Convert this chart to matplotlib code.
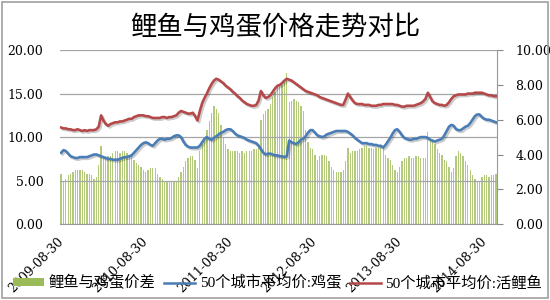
import numpy as np
import matplotlib
matplotlib.use('Agg')
import matplotlib.pyplot as plt
import matplotlib.patheffects as pe
from matplotlib.patches import Rectangle, Patch

# 10-day data, 2009-08-30 .. 2014-10-20
tick_labels = ['2009-08-30', '2010-08-30', '2011-08-30',
               '2012-08-30', '2013-08-30', '2014-08-30']

# 50个城市平均价:活鲤鱼 (left axis)
carp = [
    11.1, 11.0, 11.0, 10.9, 10.9, 10.8, 10.8, 10.9, 10.8, 10.7,
    10.8, 10.7, 10.8, 10.8, 10.8, 10.9, 11.2, 12.5, 11.9, 11.5,
    11.3, 11.5, 11.6, 11.7, 11.7, 11.8, 11.8, 11.9, 12.0, 12.1,
    12.1, 12.3, 12.4, 12.5, 12.5, 12.5, 12.4, 12.4, 12.3, 12.2,
    12.2, 12.2, 12.2, 12.3, 12.3, 12.2, 12.3, 12.3, 12.4, 12.5,
    12.8, 13.0, 12.9, 12.8, 12.7, 12.7, 12.8, 12.4, 11.9, 13.0,
    13.9, 14.5, 15.0, 15.6, 16.1, 16.5, 16.7, 16.6, 16.4, 16.2,
    15.9, 15.7, 15.5, 15.2, 15.0, 14.7, 14.5, 14.2, 14.0, 13.8,
    13.7, 13.6, 13.6, 13.7, 14.2, 15.3, 14.8, 14.5, 14.6, 14.8,
    15.2, 15.6, 15.9, 16.0, 16.2, 16.5, 16.7, 16.6, 16.5, 16.3,
    16.1, 15.9, 15.7, 15.5, 15.3, 15.2, 15.1, 15.0, 14.9, 14.8,
    14.6, 14.5, 14.4, 14.3, 14.2, 14.1, 14.0, 13.9, 13.8, 13.7,
    13.7, 14.3, 15.0, 14.6, 14.2, 13.9, 13.8, 13.8, 13.8, 13.7,
    13.7, 13.7, 13.6, 13.6, 13.6, 13.7, 13.7, 13.8, 13.8, 13.8,
    13.8, 13.8, 13.7, 13.7, 13.6, 13.5, 13.5, 13.6, 13.6, 13.6,
    13.6, 13.7, 13.8, 13.9, 14.1, 14.4, 15.1, 14.6, 14.1, 13.9,
    13.8, 13.7, 13.7, 13.6, 13.7, 14.0, 14.4, 14.7, 14.8, 14.9,
    14.9, 14.9, 14.9, 15.0, 15.0, 15.0, 15.1, 15.1, 15.1, 15.1,
    15.0, 14.9, 14.8, 14.8, 14.7, 14.7,
]

# 50个城市平均价:鸡蛋 (left axis)
egg = [
    8.2, 8.5, 8.4, 8.1, 7.8, 7.7, 7.6, 7.6, 7.7, 7.7,
    7.7, 7.7, 7.8, 7.9, 8.0, 8.0, 7.9, 7.8, 7.7, 7.6,
    7.5, 7.5, 7.4, 7.4, 7.4, 7.5, 7.6, 7.7, 7.7, 7.8,
    7.9, 8.2, 8.5, 8.8, 9.1, 9.3, 9.4, 9.3, 9.1, 9.0,
    9.3, 9.6, 9.8, 9.8, 9.7, 9.8, 9.8, 9.9, 10.1, 10.2,
    10.2, 10.0, 9.5, 9.1, 8.9, 8.8, 8.8, 8.8, 8.8, 9.0,
    9.4, 9.8, 10.0, 9.8, 9.7, 9.9, 10.1, 10.3, 10.5, 10.6,
    10.8, 10.9, 10.9, 10.7, 10.4, 10.2, 10.1, 10.0, 9.9, 9.7,
    9.6, 9.5, 9.4, 9.3, 9.0, 8.6, 8.2, 8.0, 8.1, 8.1,
    8.0, 7.9, 7.9, 7.8, 7.8, 7.7, 7.8, 9.6, 9.4, 9.3,
    9.2, 9.4, 9.7, 9.8, 10.1, 10.5, 10.8, 10.8, 10.5, 10.2,
    10.1, 10.0, 10.1, 10.3, 10.4, 10.5, 10.6, 10.7, 10.7, 10.7,
    10.7, 10.7, 10.6, 10.4, 10.2, 9.9, 9.7, 9.5, 9.3, 9.3,
    9.3, 9.2, 9.2, 9.1, 9.1, 9.0, 9.0, 8.8, 9.1, 9.5,
    9.9, 10.4, 10.8, 10.9, 10.6, 10.2, 9.9, 9.8, 9.7, 9.7,
    9.8, 9.8, 9.9, 10.0, 10.0, 10.0, 9.9, 9.7, 9.6, 9.5,
    9.6, 9.7, 9.8, 10.2, 10.7, 11.2, 11.4, 11.3, 10.9, 10.8,
    10.8, 11.0, 11.2, 11.3, 11.6, 12.0, 12.4, 12.6, 12.6, 12.3,
    12.1, 12.0, 12.0, 11.9, 11.8, 11.7,
]

# 鲤鱼与鸡蛋价差 (right axis)
spread = [
    2.9, 2.5, 2.6, 2.8, 2.9, 3.0, 3.1, 3.1, 3.1, 3.1,
    3.0, 2.9, 2.9, 2.8, 2.6, 2.7, 3.4, 4.5, 3.8, 3.8,
    3.9, 3.9, 4.1, 4.2, 4.2, 4.1, 4.2, 4.2, 4.1, 4.0,
    3.9, 3.7, 3.5, 3.4, 3.3, 3.1, 3.0, 3.1, 3.2, 3.2,
    3.2, 2.9, 2.7, 2.6, 2.5, 2.5, 2.4, 2.5, 2.5, 2.4,
    2.7, 3.0, 3.3, 3.6, 3.8, 3.9, 3.9, 3.7, 3.2, 4.2,
    4.6, 4.9, 5.4, 5.9, 6.4, 6.8, 6.6, 6.4, 5.7, 5.0,
    4.6, 4.3, 4.2, 4.2, 4.2, 4.2, 4.1, 4.2, 4.1, 4.2,
    4.2, 4.2, 4.3, 4.3, 4.4, 6.0, 6.3, 6.5, 6.6, 6.9,
    7.3, 7.6, 7.9, 8.0, 8.0, 8.2, 8.7, 7.0, 7.1, 7.2,
    7.1, 7.0, 6.8, 6.5, 5.4, 4.7, 4.4, 4.3, 4.0, 3.7,
    3.9, 4.0, 4.0, 3.9, 3.6, 3.3, 3.1, 3.0, 3.0, 3.0,
    3.1, 3.6, 4.4, 4.1, 4.2, 4.2, 4.2, 4.3, 4.4, 4.5,
    4.5, 4.4, 4.4, 4.3, 4.4, 4.4, 4.5, 4.4, 4.0, 3.8,
    3.7, 3.4, 3.1, 3.0, 3.3, 3.6, 3.8, 3.8, 3.9, 3.8,
    3.8, 3.9, 3.9, 3.8, 3.8, 3.8, 5.3, 4.8, 4.7, 4.6,
    4.3, 4.1, 4.0, 3.7, 3.6, 3.3, 3.0, 3.2, 3.9, 4.2,
    4.1, 3.9, 3.6, 3.4, 3.1, 2.8, 2.6, 2.5, 2.5, 2.7,
    2.8, 2.8, 2.7, 2.8, 2.8, 2.9,
]

cjk = ['Noto Sans CJK SC', 'DejaVu Sans']
num_font = 'DejaVu Serif'

fig = plt.figure(figsize=(5.5, 3.0), dpi=100)
fig.patch.set_facecolor('white')
fig.patches.append(Rectangle((0.004, 0.008), 0.992, 0.985, transform=fig.transFigure,
                             fill=False, edgecolor='#a0a0a0', linewidth=1.2))

ax = fig.add_axes([0.109, 0.253, 0.795, 0.58])
ax2 = ax.twinx()

x = np.arange(len(carp))

ax2.bar(x, spread, width=0.55, color='#b3c97c', linewidth=0)

shadow = [pe.SimpleLineShadow(offset=(1.2, -1.2), alpha=0.2), pe.Normal()]
l1, = ax.plot(x, egg, color='#4a7db5', lw=1.9, label='50个城市平均价:鸡蛋',
              path_effects=shadow, solid_joinstyle='round')
l2, = ax.plot(x, carp, color='#b5494a', lw=1.9, label='50个城市平均价:活鲤鱼',
              path_effects=shadow, solid_joinstyle='round')

ax.set_zorder(ax2.get_zorder() + 1)
ax.patch.set_visible(False)

ax.set_xlim(-0.5, len(carp) - 0.5)
ax.set_ylim(0, 20)
ax2.set_ylim(0, 10)
ax.set_yticks(np.arange(0, 21, 5))
ax2.set_yticks(np.arange(0, 11, 2))
ax.set_yticklabels(['%.2f' % v for v in np.arange(0, 21, 5)], family=num_font, fontsize=9)
ax2.set_yticklabels(['%.2f' % v for v in np.arange(0, 11, 2)], family=num_font, fontsize=9)

ax.set_xticks(x[::36])
ax.set_xticklabels(tick_labels, rotation=45, ha='right', va='center',
                   rotation_mode='anchor', family=num_font, fontsize=9)
ax.tick_params(axis='x', length=0, pad=11)
ax.tick_params(axis='y', length=0, pad=12)
ax2.tick_params(axis='y', length=4, width=0.8, color='#888888', pad=9)

ax.grid(axis='y', color='#a6a6a6', linewidth=0.9)
ax.set_axisbelow(True)
for s in ['top', 'left', 'right']:
    ax.spines[s].set_visible(False)
for s in ['top', 'left', 'bottom']:
    ax2.spines[s].set_visible(False)
ax.spines['bottom'].set_color('#999999')
ax2.spines['right'].set_color('#999999')

fig.text(0.5, 0.91, '鲤鱼与鸡蛋价格走势对比', family=cjk, fontsize=19,
         weight='light', ha='center', va='center')

bar_handle = Patch(facecolor='#9bbb59', edgecolor='none')
leg_lines = [plt.Line2D([], [], color=l1.get_color(), lw=1.8),
             plt.Line2D([], [], color=l2.get_color(), lw=1.8)]
fig.legend([bar_handle] + leg_lines,
           ['鲤鱼与鸡蛋价差', l1.get_label(), l2.get_label()],
           loc='center', bbox_to_anchor=(0.505, 0.057), ncol=3, frameon=False,
           prop={'family': ['Liberation Serif', 'Noto Sans CJK SC'], 'size': 11},
           handlelength=2.0, handleheight=0.5, handletextpad=0.3,
           columnspacing=0.6, borderaxespad=0)

fig.savefig('out.png', dpi=100)
